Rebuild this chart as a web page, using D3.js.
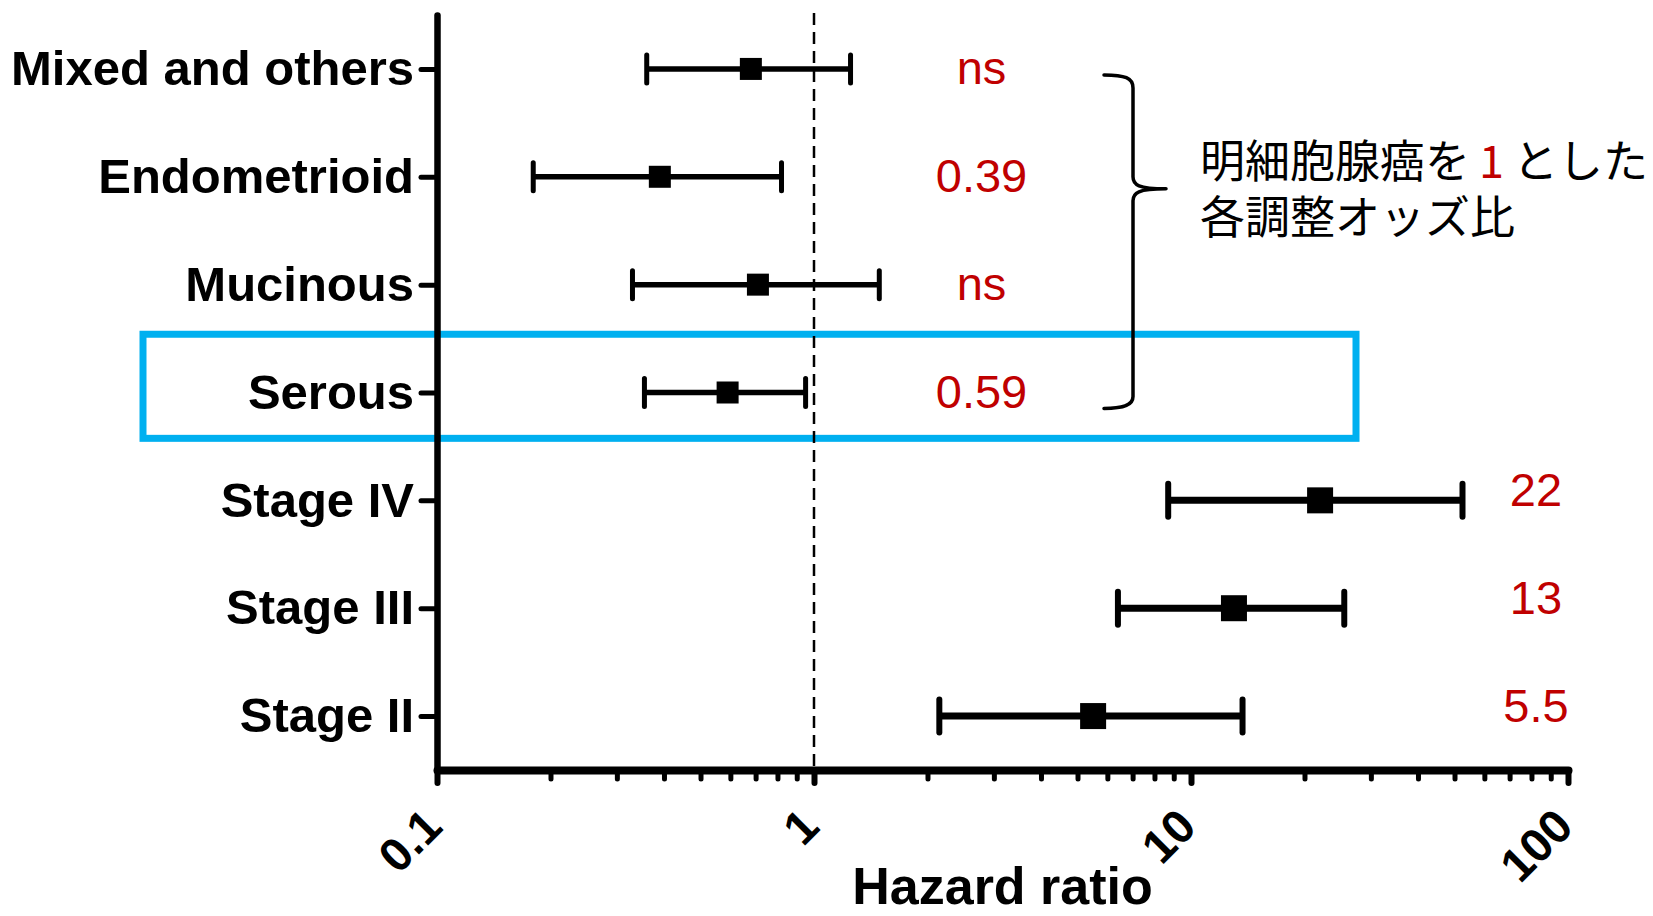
<!DOCTYPE html>
<html>
<head>
<meta charset="utf-8">
<script src="https://cdn.jsdelivr.net/npm/d3@7"></script>
<style>
  html, body { margin: 0; padding: 0; background: #fff; }
  svg { display: block; }
</style>
</head>
<body>
<svg id="chart" width="1653" height="916"></svg>
<script>
// Forest plot of adjusted hazard ratios (log scale) with 95% CI
const categories = ["Mixed and others", "Endometrioid", "Mucinous", "Serous", "Stage IV", "Stage III", "Stage II"];
const groupOf    = ["histology", "histology", "histology", "histology", "stage", "stage", "stage"];
const hazardRatio = [0.68, 0.39, 0.71, 0.59, 22, 13, 5.5];
const ciLower     = [0.36, 0.18, 0.33, 0.355, 8.7, 6.4, 2.15];
const ciUpper     = [1.25, 0.82, 1.49, 0.95, 52.5, 25.5, 13.7];
const valueLabels = ["ns", "0.39", "ns", "0.59", "22", "13", "5.5"];
const xTickValues = [0.1, 1, 10, 100];
const xTickLabels = ["0.1", "1", "10", "100"];
const referenceValue = 1;
const noteLine1 = ["明細胞腺癌を", "1", "とした"];
const noteLine2 = "各調整オッズ比";
const xTitle = "Hazard ratio";

(function draw() {
  const rows = categories.map((c, i) => ({
    name: c, group: groupOf[i], hr: hazardRatio[i],
    lo: ciLower[i], hi: ciUpper[i], label: valueLabels[i]
  }));

  const LATIN = "'Liberation Sans', Arial, Helvetica, sans-serif";
  const CJK = "'Noto Sans CJK JP', 'Noto Sans CJK SC', sans-serif";
  const RED = "#C00000";

  const svg = d3.select("#chart");

  const x = d3.scaleLog().domain([0.1, 100]).range([437, 1568]);
  const y = d3.scalePoint().domain(categories).range([15, 770]).padding(0.5);
  const axisY = 770;

  // per-group mark styling
  const style = {
    histology: { lw: 5.5, cap: 14, capW: 5, sq: 22 },
    stage:     { lw: 7,   cap: 16.5, capW: 6, sq: 26 }
  };

  // highlight box around the Serous row
  const step = y.step();
  svg.append("rect")
    .attr("x", 143).attr("y", y("Serous") - step * 0.54)
    .attr("width", 1356 - 143).attr("height", step * 0.965)
    .attr("fill", "none").attr("stroke", "#00B0F0").attr("stroke-width", 7);

  // dashed reference line at HR = 1
  svg.append("line")
    .attr("x1", x(referenceValue)).attr("x2", x(referenceValue))
    .attr("y1", 13).attr("y2", axisY)
    .attr("stroke", "#000").attr("stroke-width", 2.5)
    .attr("stroke-dasharray", "12,7");

  // error bars
  const bars = svg.append("g").selectAll("g").data(rows).join("g");
  bars.append("line")
    .attr("x1", d => x(d.lo)).attr("x2", d => x(d.hi))
    .attr("y1", d => y(d.name)).attr("y2", d => y(d.name))
    .attr("stroke", "#000").attr("stroke-width", d => style[d.group].lw);
  ["lo", "hi"].forEach(k => {
    bars.append("line")
      .attr("x1", d => x(d[k])).attr("x2", d => x(d[k]))
      .attr("y1", d => y(d.name) - style[d.group].cap)
      .attr("y2", d => y(d.name) + style[d.group].cap)
      .attr("stroke", "#000").attr("stroke-width", d => style[d.group].capW)
      .attr("stroke-linecap", "round");
  });
  bars.append("rect")
    .attr("x", d => x(d.hr) - style[d.group].sq / 2)
    .attr("y", d => y(d.name) - style[d.group].sq / 2)
    .attr("width", d => style[d.group].sq)
    .attr("height", d => style[d.group].sq)
    .attr("fill", "#000");

  // value labels
  svg.append("g").selectAll("text").data(rows).join("text")
    .attr("x", d => d.group === "histology" ? 981.5 : 1536)
    .attr("y", d => y(d.name) + (d.group === "histology" ? 15 : 6))
    .attr("text-anchor", "middle")
    .attr("font-family", LATIN).attr("font-size", 47)
    .attr("fill", RED)
    .text(d => d.label);

  // y axis
  const gy = svg.append("g").attr("transform", "translate(437,0)")
    .call(d3.axisLeft(y).tickSize(16).tickSizeOuter(0).tickPadding(7));
  gy.select(".domain").attr("stroke", "#000").attr("stroke-width", 6.5).attr("stroke-linecap", "round");
  gy.selectAll(".tick line").attr("stroke", "#000").attr("stroke-width", 5).attr("stroke-linecap", "round");
  gy.selectAll(".tick text")
    .attr("font-family", LATIN).attr("font-size", 49).attr("font-weight", "bold").attr("fill", "#000");

  // x axis: minor ticks
  const minor = x.ticks().filter(v => !xTickValues.some(t => Math.abs(t - v) < 1e-9));
  const gxm = svg.append("g").attr("transform", `translate(0,${axisY})`)
    .call(d3.axisBottom(x).tickValues(minor).tickSize(9).tickFormat(""));
  gxm.select(".domain").remove();
  gxm.selectAll(".tick line").attr("stroke", "#000").attr("stroke-width", 5).attr("stroke-linecap", "round");

  // x axis: major ticks and labels
  const gx = svg.append("g").attr("transform", `translate(0,${axisY})`)
    .call(d3.axisBottom(x).tickValues(xTickValues).tickSize(13).tickSizeOuter(0)
      .tickFormat((d, i) => xTickLabels[i]));
  gx.select(".domain").attr("stroke", "#000").attr("stroke-width", 8).attr("stroke-linecap", "round");
  gx.selectAll(".tick line").attr("stroke", "#000").attr("stroke-width", 6).attr("stroke-linecap", "round");
  gx.selectAll(".tick text")
    .attr("font-family", LATIN).attr("font-size", 47).attr("font-weight", "bold").attr("fill", "#000")
    .attr("text-anchor", "end").attr("dy", null).attr("y", null)
    .attr("transform", "translate(7,59) rotate(-45)");

  // x axis title
  svg.append("text")
    .attr("x", (x.range()[0] + x.range()[1]) / 2).attr("y", 904)
    .attr("text-anchor", "middle")
    .attr("font-family", LATIN).attr("font-size", 52).attr("font-weight", "bold")
    .text(xTitle);

  // curly brace grouping the histology rows
  const bx = 1133;
  const bTop = y("Mixed and others") + 6, bBot = y("Serous") + 16, bTip = y("Endometrioid") + 12;
  const brace = `M1104,${bTop} C1125,${bTop} ${bx},${bTop + 3} ${bx},${bTop + 13} L${bx},${bTip - 12}
    C${bx},${bTip - 4} ${bx + 5},${bTip} 1166,${bTip}
    M1166,${bTip} C${bx + 5},${bTip} ${bx},${bTip + 4} ${bx},${bTip + 12}
    L${bx},${bBot - 12} C${bx},${bBot - 4} 1125,${bBot} 1104,${bBot}`;
  svg.append("path").attr("d", brace).attr("fill", "none")
    .attr("stroke", "#000").attr("stroke-width", 3.5).attr("stroke-linecap", "round");

  // annotation text: pieces of line 1 laid out one after another, "1" in red
  const noteSize = 45, gap = noteSize * 0.2;
  let cx = 1200;
  noteLine1.forEach((t, i) => {
    const el = svg.append("text")
      .attr("x", cx).attr("y", 178)
      .attr("font-family", CJK).attr("font-size", noteSize)
      .attr("fill", i === 1 ? RED : "#000")
      .text(t);
    cx += el.node().getComputedTextLength() + gap;
  });
  svg.append("text")
    .attr("x", 1200).attr("y", 234)
    .attr("font-family", CJK).attr("font-size", noteSize).attr("fill", "#000")
    .text(noteLine2);
})();
</script>
</body>
</html>
